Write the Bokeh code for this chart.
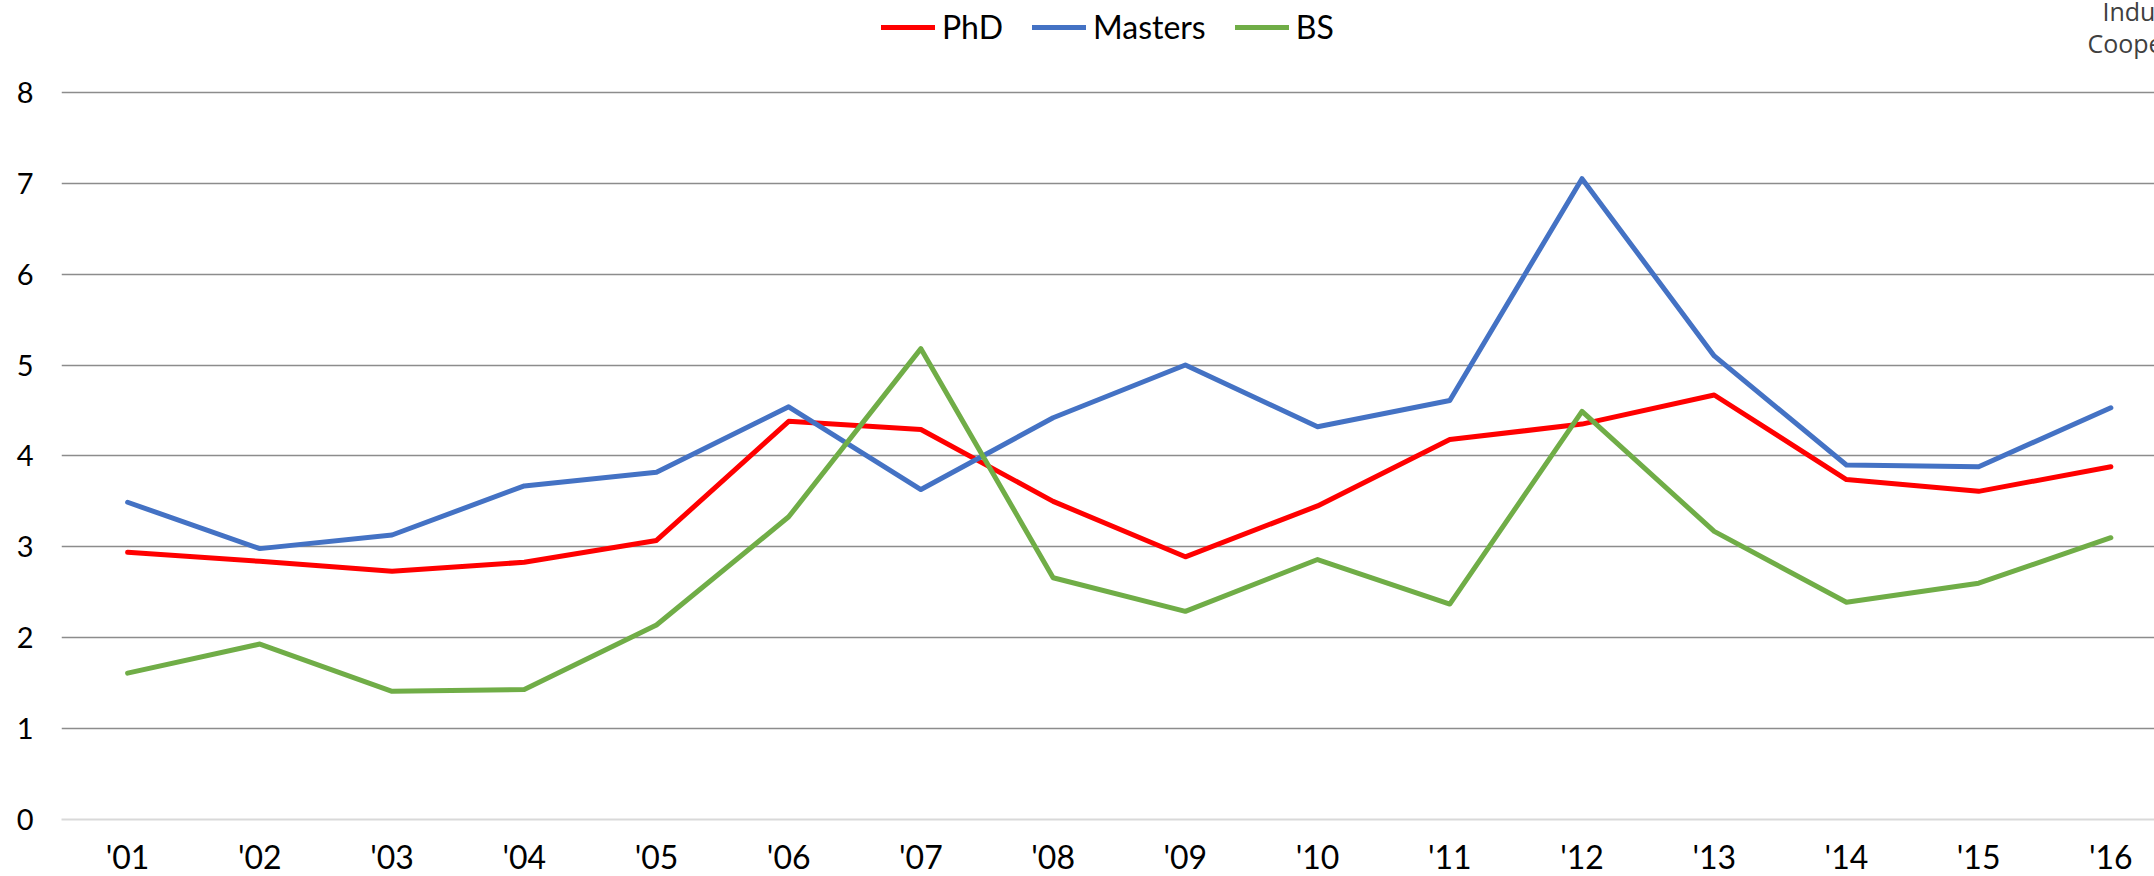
from bokeh.plotting import figure
from bokeh.models import Range1d, FixedTicker, Legend, LegendItem, Label
from bokeh.embed import file_html
from bokeh.resources import INLINE

# ---- data ----
years = ["'01", "'02", "'03", "'04", "'05", "'06", "'07", "'08",
         "'09", "'10", "'11", "'12", "'13", "'14", "'15", "'16"]
phd = [2.94, 2.84, 2.73, 2.83, 3.07, 4.38, 4.29, 3.50,
       2.89, 3.45, 4.18, 4.35, 4.67, 3.74, 3.61, 3.88]
masters = [3.49, 2.98, 3.13, 3.67, 3.82, 4.54, 3.63, 4.42,
           5.00, 4.32, 4.61, 7.05, 5.10, 3.90, 3.88, 4.53]
bs = [1.61, 1.93, 1.41, 1.43, 2.14, 3.33, 5.18, 2.66,
      2.29, 2.86, 2.37, 4.49, 3.17, 2.39, 2.60, 3.10]
y_ticks = [0, 1, 2, 3, 4, 5, 6, 7, 8]
corner_text = ["Indus", "Coope"]

series = [("PhD", phd, "#FF0000"), ("Masters", masters, "#4472C4"), ("BS", bs, "#70AD47")]

FONT = "Lato"
xs = list(range(len(years)))

p = figure(frame_width=2093, frame_height=819, output_backend="svg", toolbar_location=None,
           x_range=Range1d(-0.5, 15.33), y_range=Range1d(0, 9.01),
           min_border_left=61, min_border_right=0, min_border_top=0, min_border_bottom=57)
p.outline_line_color = None

# y axis
p.yaxis.ticker = FixedTicker(ticks=y_ticks)
p.yaxis.axis_line_color = None
p.yaxis.major_tick_line_color = None
p.yaxis.minor_tick_line_color = None
p.yaxis.major_tick_out = 0
p.yaxis.major_tick_in = 0
p.yaxis.major_label_standoff = 28
p.yaxis.major_label_text_font = FONT
p.yaxis.major_label_text_font_size = "29px"
p.yaxis.major_label_text_color = "#000000"

# x axis
p.xaxis.ticker = FixedTicker(ticks=xs)
p.xaxis.major_label_overrides = {i: y for i, y in enumerate(years)}
p.xaxis.axis_line_color = "#D9D9D9"
p.xaxis.axis_line_width = 2
p.xaxis.major_tick_line_color = None
p.xaxis.minor_tick_line_color = None
p.xaxis.major_tick_out = 0
p.xaxis.major_tick_in = 0
p.xaxis.major_label_standoff = 17
p.xaxis.major_label_text_font = FONT
p.xaxis.major_label_text_font_size = "32px"
p.xaxis.major_label_text_color = "#000000"

# grid
p.xgrid.visible = False
p.ygrid.ticker = FixedTicker(ticks=y_ticks[1:])
p.ygrid.grid_line_color = "#8C8C8C"
p.ygrid.grid_line_width = 1.5

items = []
for name, vals, col in series:
    r = p.line(xs, vals, line_color=col, line_width=5, line_cap="round", line_join="round")
    items.append(LegendItem(label=name, renderers=[r]))

legend = Legend(items=items, orientation="horizontal", location=(820, 773),
                border_line_color=None, background_fill_alpha=0, padding=0, margin=0,
                spacing=29, label_standoff=7, glyph_width=54, glyph_height=20,
                label_text_font=FONT, label_text_font_size="32px", label_text_color="#000000")
p.add_layout(legend)

p.add_layout(Label(x=2041, y=809, x_units="screen", y_units="screen", text=corner_text[0],
                   text_font="Open Sans", text_font_size="25px", text_color="#404040",
                   text_baseline="alphabetic"))
p.add_layout(Label(x=2026, y=777, x_units="screen", y_units="screen", text=corner_text[1],
                   text_font="Open Sans", text_font_size="25px", text_color="#404040",
                   text_baseline="alphabetic"))

open("out.html", "w").write(file_html(p, INLINE))
